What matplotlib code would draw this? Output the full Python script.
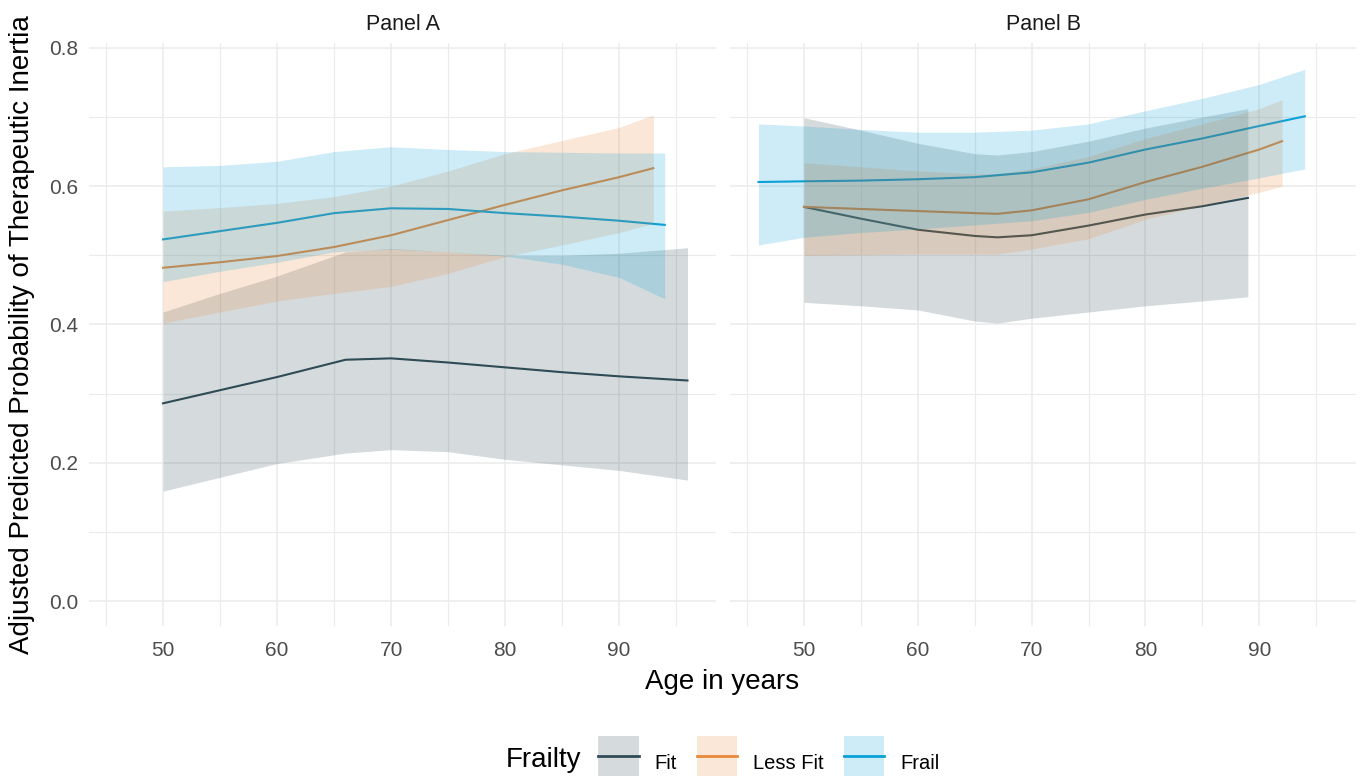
import numpy as np
import matplotlib
matplotlib.use("Agg")
import matplotlib.pyplot as plt
from matplotlib.patches import Patch, Rectangle
from matplotlib.lines import Line2D
from matplotlib.legend_handler import HandlerTuple, HandlerPatch
from matplotlib.ticker import MultipleLocator

plt.rcParams['font.family'] = ['Liberation Sans', 'DejaVu Sans']

# colours per frailty group
COLORS = {
    "Fit": "#2F4B55",
    "Less Fit": "#E8883A",
    "Frail": "#0AA0D8",
}
groups = ["Fit", "Less Fit", "Frail"]
panels = ["Panel A", "Panel B"]

# ---- Panel A ----
a_fit_x = [50, 55, 60, 66, 70, 75, 80, 85, 90, 96]
a_fit_y = [0.286, 0.305, 0.324, 0.349, 0.351, 0.345, 0.338, 0.331, 0.325, 0.319]
a_fit_lo = [0.159, 0.179, 0.199, 0.214, 0.219, 0.216, 0.205, 0.197, 0.189, 0.175]
a_fit_hi = [0.418, 0.445, 0.470, 0.505, 0.510, 0.505, 0.500, 0.500, 0.503, 0.511]

a_less_x = [50, 55, 60, 65, 70, 75, 80, 85, 90, 93]
a_less_y = [0.482, 0.490, 0.499, 0.512, 0.529, 0.551, 0.573, 0.594, 0.613, 0.626]
a_less_lo = [0.402, 0.418, 0.434, 0.445, 0.455, 0.474, 0.498, 0.515, 0.533, 0.546]
a_less_hi = [0.564, 0.569, 0.575, 0.585, 0.600, 0.622, 0.647, 0.666, 0.685, 0.703]

a_frail_x = [50, 55, 60, 65, 70, 75, 80, 85, 90, 94]
a_frail_y = [0.523, 0.535, 0.547, 0.561, 0.568, 0.567, 0.561, 0.556, 0.550, 0.544]
a_frail_lo = [0.462, 0.477, 0.490, 0.505, 0.509, 0.505, 0.499, 0.487, 0.468, 0.437]
a_frail_hi = [0.628, 0.630, 0.636, 0.650, 0.657, 0.653, 0.650, 0.649, 0.648, 0.648]

# ---- Panel B ----
b_fit_x = [50, 55, 60, 65, 67, 70, 75, 80, 85, 89]
b_fit_y = [0.570, 0.553, 0.537, 0.528, 0.526, 0.529, 0.543, 0.559, 0.571, 0.583]
b_fit_lo = [0.432, 0.427, 0.421, 0.405, 0.402, 0.409, 0.418, 0.427, 0.434, 0.440]
b_fit_hi = [0.699, 0.681, 0.662, 0.647, 0.645, 0.650, 0.665, 0.684, 0.700, 0.712]

b_less_x = [50, 55, 60, 65, 67, 70, 75, 80, 85, 90, 92]
b_less_y = [0.570, 0.567, 0.564, 0.561, 0.560, 0.565, 0.581, 0.606, 0.628, 0.653, 0.665]
b_less_lo = [0.500, 0.501, 0.502, 0.502, 0.502, 0.509, 0.524, 0.552, 0.572, 0.591, 0.600]
b_less_hi = [0.634, 0.628, 0.622, 0.618, 0.618, 0.625, 0.643, 0.669, 0.690, 0.712, 0.725]

b_frail_x = [46, 50, 55, 60, 65, 70, 75, 80, 85, 90, 94]
b_frail_y = [0.606, 0.607, 0.608, 0.610, 0.613, 0.620, 0.634, 0.653, 0.669, 0.687, 0.701]
b_frail_lo = [0.515, 0.526, 0.533, 0.538, 0.544, 0.550, 0.562, 0.581, 0.597, 0.612, 0.625]
b_frail_hi = [0.690, 0.687, 0.682, 0.678, 0.678, 0.681, 0.690, 0.709, 0.727, 0.747, 0.769]

panel_data = {
    "Panel A": {
        "Fit": (a_fit_x, a_fit_y, a_fit_lo, a_fit_hi),
        "Less Fit": (a_less_x, a_less_y, a_less_lo, a_less_hi),
        "Frail": (a_frail_x, a_frail_y, a_frail_lo, a_frail_hi),
    },
    "Panel B": {
        "Fit": (b_fit_x, b_fit_y, b_fit_lo, b_fit_hi),
        "Less Fit": (b_less_x, b_less_y, b_less_lo, b_less_hi),
        "Frail": (b_frail_x, b_frail_y, b_frail_lo, b_frail_hi),
    },
}

fig = plt.figure(figsize=(13.61, 7.79), dpi=100)
W, H = 1361, 779
ax_pos = [(89, 43, 716, 626), (730, 43, 1356, 626)]  # pixel box l, t, r, b

axes = []
for i, name in enumerate(panels):
    l, t, r, b = ax_pos[i]
    ax = fig.add_axes([l / W, 1 - b / H, (r - l) / W, (b - t) / H])
    axes.append(ax)
    for g in groups:
        x, y, lo, hi = panel_data[name][g]
        ax.plot(x, y, color=COLORS[g], lw=1.5, zorder=2)
        ax.fill_between(x, lo, hi, color=COLORS[g], alpha=0.2, lw=0, zorder=3)

    ax.set_xlim(43.5, 98.5)
    ax.set_ylim(-0.036, 0.807)
    ax.xaxis.set_minor_locator(MultipleLocator(5))
    ax.yaxis.set_minor_locator(MultipleLocator(0.1))
    ax.set_yticks([0.0, 0.2, 0.4, 0.6, 0.8])
    ax.set_xticks([50, 60, 70, 80, 90])
    ax.grid(which="major", color="#EBEBEB", lw=1.1, zorder=0)
    ax.grid(which="minor", color="#EBEBEB", lw=0.8, zorder=0)
    ax.set_axisbelow(True)
    for s in ax.spines.values():
        s.set_visible(False)
    ax.tick_params(which="both", length=0)
    ax.tick_params(axis="x", pad=11, labelsize=15, labelcolor="#4D4D4D")
    ax.tick_params(axis="y", pad=8, labelsize=15, labelcolor="#4D4D4D")
    ax.set_yticklabels([f"{v:.1f}" for v in [0.0, 0.2, 0.4, 0.6, 0.8]])
    ax.set_title(name, fontsize=15.5, color="#1A1A1A", pad=9)
    if i == 1:
        ax.tick_params(axis="y", labelleft=False)

fig.text(22 / W, 1 - 335 / H, "Adjusted Predicted Probability of Therapeutic Inertia",
         rotation=90, ha="center", va="center", fontsize=20)
fig.text(722 / W, 1 - 682 / H, "Age in years", ha="center", va="center", fontsize=20)


# legend key box centred on the key line
def centred_box(legend, orig_handle, xdescent, ydescent, width, height, fontsize):
    yc = (height - ydescent) / 2
    return Rectangle((-xdescent, yc - height / 2), width, height)


handles = []
for g in groups:
    handles.append((Patch(facecolor=COLORS[g], alpha=0.2, edgecolor="none"),
                    Line2D([], [], color=COLORS[g], lw=2)))
fig.text(581 / W, 1 - 760 / H, "Frailty", ha="right", va="center", fontsize=20)
fig.legend(handles, groups, loc="center", bbox_to_anchor=(769 / W, 1 - 763 / H),
           ncol=3, frameon=False, fontsize=14.5, borderpad=0,
           handlelength=1.99, handleheight=2.68, handletextpad=0.8,
           columnspacing=1.0,
           handler_map={tuple: HandlerTuple(ndivide=1, pad=0),
                        Patch: HandlerPatch(patch_func=centred_box)})

fig.savefig("out.png", dpi=100)
